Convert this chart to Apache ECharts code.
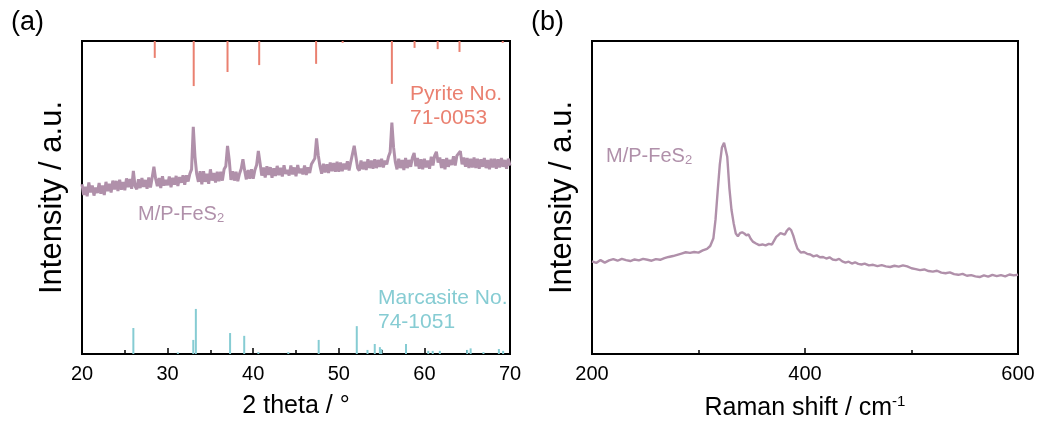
<!DOCTYPE html>
<html>
<head>
<meta charset="utf-8">
<script src="https://cdn.jsdelivr.net/npm/echarts@6/dist/echarts.min.js"></script>
<style>
html,body{margin:0;padding:0;background:#fff;}
#c{width:1039px;height:429px;}
</style>
</head>
<body>
<div id="c"></div>
<script>
// ---------- DATA ----------
// XRD pattern of M/P-FeS2: 2θ sampled from 20° every 0.2° (arbitrary intensity units)
const xrdStart = 20, xrdStep = 0.2;
const xrdIntensity = [
54.2,50.8,53.4,50.4,54.8,51.6,53.8,50.6,53.2,51.4,
54.6,51.2,53.8,50.8,55.0,52.0,54.4,51.6,55.4,52.6,
55.3,52.1,55.7,52.5,54.9,52.3,56.1,53.3,55.9,52.8,
58.5,53.6,52.6,55.8,53.0,56.2,53.4,55.6,52.8,56.4,
53.2,56.4,59.8,56.0,53.6,56.2,53.0,56.8,53.8,55.6,
53.9,56.7,53.3,56.3,54.1,56.9,53.7,56.5,54.7,57.1,
54.1,57.1,55.1,57.6,59.0,72.6,63.0,57.5,55.0,58.4,
54.2,58.4,55.0,57.6,54.4,59.0,55.4,57.8,54.8,58.2,
55.2,58.2,55.4,59.0,60.0,66.5,62.0,55.6,58.4,55.4,
58.2,55.2,57.6,59.2,62.2,58.6,55.8,58.8,56.0,59.0,
56.0,58.8,60.4,64.9,61.0,57.0,59.6,56.4,60.0,57.2,
59.7,56.3,59.3,56.9,60.1,57.1,59.5,56.7,60.3,57.5,
58.8,57.0,60.2,57.4,59.6,56.8,60.4,57.8,59.2,57.4,
60.2,57.2,59.6,57.8,60.6,61.0,62.5,68.9,63.5,60.0,
57.6,60.8,58.0,60.6,57.8,61.2,58.4,61.0,58.2,61.4,
58.2,61.2,58.4,60.8,59.0,61.6,58.6,61.4,62.0,66.5,
63.0,59.4,58.6,61.8,59.0,61.4,58.8,62.2,59.4,61.8,
59.2,62.2,59.4,62.0,59.8,62.4,59.6,61.8,60.6,63.0,
64.5,73.9,66.0,61.4,59.0,62.4,59.4,62.0,58.8,62.6,
59.4,62.0,59.8,62.8,64.2,60.0,62.6,59.2,62.2,59.0,
62.4,59.6,61.8,59.2,63.0,60.2,63.4,64.6,61.2,62.8,
59.4,62.2,59.0,62.6,59.8,62.0,60.4,63.2,60.2,63.4,
62.8,64.8,60.6,62.8,59.8,62.6,59.4,62.4,59.6,62.8,
59.4,62.4,59.2,62.2,59.8,62.6,59.4,62.0,59.0,62.4,
59.6,62.4,59.2,62.2,59.6,62.6,59.8,62.0,59.2,62.4,60.2
];
// Reference patterns: [2θ, relative stick height]
const pyritePeaks = [
[28.5,5.4],[33.05,14.4],[37.0,9.9],[40.7,7.7],[47.35,7.3],[50.45,0.6],
[56.2,13.7],[58.85,2.2],[61.55,2.6],[64.1,3.5],[69.15,0.6]
];
const marcasitePeaks = [
[26.0,8.3],[31.2,0.5],[33.0,4.5],[33.3,14.4],[37.3,6.7],[38.95,5.8],[40.6,0.6],
[44.1,0.6],[47.65,4.5],[52.1,8.9],[53.35,1.3],[54.2,3.2],[54.8,2.2],[54.97,1.6],
[57.85,3.2],[60.45,1.0],[60.97,1.0],[61.8,1.0],[65.0,1.3],[65.4,1.8],[66.9,0.6],
[68.7,1.6],[69.2,1.0]
];
// Raman spectrum: [shift cm-1, intensity]
const ramanSpectrum = [
[200,29.6],[204,29.1],[208,30.0],[212,29.2],[216,29.9],[220,30.3],[224,29.8],[228,30.4],
[232,30.0],[236,29.7],[240,30.2],[244,29.9],[248,30.4],[252,30.1],[256,29.8],[260,30.3],
[264,30.1],[268,30.6],[272,31.0],[276,31.3],[280,31.7],[284,32.1],[288,32.5],[292,32.3],
[296,32.6],[300,32.4],[304,33.1],[308,33.6],[311,34.5],[314,37.0],[316,43.0],[318,52.0],
[320,60.5],[322,66.0],[324,67.5],[325,67.3],[327,63.0],[329,53.0],[331,46.0],[333,41.8],
[335,38.5],[337,37.6],[339,38.6],[341,38.9],[343,38.5],[345,37.9],[347,38.2],[349,36.8],
[351,35.9],[354,35.3],[357,34.8],[360,35.0],[363,34.7],[366,35.2],[369,35.0],[371,36.2],
[373,37.4],[375,38.0],[377,38.6],[379,38.4],[381,38.1],[383,39.4],[385,40.2],[387,39.6],
[389,37.8],[391,35.5],[393,33.6],[396,32.4],[399,32.6],[402,32.0],[405,31.8],[408,31.2],
[411,31.5],[414,30.9],[417,31.0],[420,30.5],[423,30.9],[426,30.2],[429,30.0],[432,30.4],
[435,29.6],[438,29.2],[441,29.5],[444,28.9],[447,29.3],[450,28.8],[453,28.6],[456,28.9],
[460,28.3],[464,28.5],[468,28.1],[472,28.4],[476,28.0],[480,27.8],[484,28.2],[488,27.9],
[492,28.3],[496,28.0],[500,27.4],[504,27.1],[508,26.8],[512,27.0],[516,26.5],[520,26.3],
[524,26.6],[528,26.0],[532,25.8],[536,26.1],[540,25.5],[544,25.3],[548,25.6],[552,25.0],
[556,25.2],[560,24.8],[564,24.6],[568,25.1],[572,24.7],[576,25.3],[580,24.9],[584,25.2],
[588,24.8],[592,25.4],[596,25.1],[600,25.3]
];
const xrdTicks = [20,30,40,50,60,70];
const ramanTicks = [200,400,600];

// ---------- STYLE ----------
const FONT = 'Liberation Sans, Arial, sans-serif';
const C_XRD = '#b090aa', C_PY = '#ea8070', C_MA = '#86ccd3';

const xrdData = xrdIntensity.map((v,i)=>[+(xrdStart + i*xrdStep).toFixed(2), v]);

function stickSeries(data, color, fromTop){
  return {
    type:'custom', xAxisIndex:0, yAxisIndex:0, silent:true, clip:true,
    data: data,
    renderItem: function(params, api){
      const x = api.value(0), h = api.value(1);
      const base = fromTop ? 100 : 0;
      const end = fromTop ? 100 - h : h;
      const p0 = api.coord([x, base]), p1 = api.coord([x, end]);
      return {type:'line', shape:{x1:p0[0],y1:p0[1],x2:p1[0],y2:p1[1]},
        style:{stroke:color, lineWidth:2}};
    }
  };
}

function xAxisCfg(idx, min, max, interval, name, nameRich){
  return {
    gridIndex: idx, type:'value', min:min, max:max, interval:interval,
    name:name, nameLocation:'middle', nameGap:40,
    nameTextStyle:{fontFamily:FONT, fontSize:25, color:'#000', rich:nameRich},
    axisLine:{show:true, onZero:false, lineStyle:{color:'#000', width:2}},
    axisTick:{show:true, inside:true, length:6, lineStyle:{color:'#000', width:1.5}},
    minorTick:{show:true, splitNumber:2, length:4, lineStyle:{color:'#000', width:1.5}},
    axisLabel:{fontFamily:FONT, fontSize:20, color:'#000', margin:10},
    splitLine:{show:false}
  };
}
function yAxisCfg(idx){
  return {
    gridIndex: idx, type:'value', min:0, max:100,
    name:'Intensity / a.u.', nameLocation:'middle', nameGap:14,
    nameTextStyle:{fontFamily:FONT, fontSize:31, color:'#000'},
    axisLine:{show:true, lineStyle:{color:'#000', width:2}},
    axisTick:{show:false}, axisLabel:{show:false}, splitLine:{show:false}
  };
}

const chart = echarts.init(document.getElementById('c'), null, {renderer:'canvas'});
chart.setOption({
  animation:false,
  backgroundColor:'#fff',
  grid:[
    {left:82, top:41, width:428, height:313, show:true, borderColor:'#000', borderWidth:2},
    {left:592, top:41, width:426, height:313, show:true, borderColor:'#000', borderWidth:2}
  ],
  xAxis:[
    xAxisCfg(0, 20, 70, 10, '2 theta / °'),
    xAxisCfg(1, 200, 600, 200, '{a|Raman shift / cm}{s|-1}',
      {a:{fontFamily:FONT, fontSize:25, color:'#000'}, s:{fontFamily:FONT, fontSize:15, color:'#000', padding:[0,0,14,0]}})
  ],
  yAxis:[yAxisCfg(0), yAxisCfg(1)],
  series:[
    {type:'line', xAxisIndex:0, yAxisIndex:0, data:xrdData, showSymbol:false, silent:true,
     lineStyle:{color:C_XRD, width:3}},
    stickSeries(pyritePeaks, C_PY, true),
    stickSeries(marcasitePeaks, C_MA, false),
    {type:'line', xAxisIndex:1, yAxisIndex:1, data:ramanSpectrum, showSymbol:false, silent:true,
     lineStyle:{color:C_XRD, width:2.4}}
  ],
  graphic:[
    {type:'text', left:11, top:9, style:{text:'(a)', font:'27px '+FONT, fill:'#000'}},
    {type:'text', left:531, top:9, style:{text:'(b)', font:'27px '+FONT, fill:'#000'}},
    {type:'text', left:410, top:82, style:{text:'Pyrite No.\n71-0053', font:'21px '+FONT, fill:C_PY, lineHeight:24}},
    {type:'text', left:378, top:286, style:{text:'Marcasite No.\n74-1051', font:'21px '+FONT, fill:C_MA, lineHeight:24}},
    {type:'text', left:138, top:204, style:{text:'{a|M/P-FeS}{s|2}',
      rich:{a:{fontFamily:FONT, fontSize:20, fill:C_XRD}, s:{fontFamily:FONT, fontSize:13, fill:C_XRD, padding:[9,0,0,0]}}}},
    {type:'text', left:606, top:146, style:{text:'{a|M/P-FeS}{s|2}',
      rich:{a:{fontFamily:FONT, fontSize:20, fill:C_XRD}, s:{fontFamily:FONT, fontSize:13, fill:C_XRD, padding:[9,0,0,0]}}}}
  ]
});
</script>
</body>
</html>
